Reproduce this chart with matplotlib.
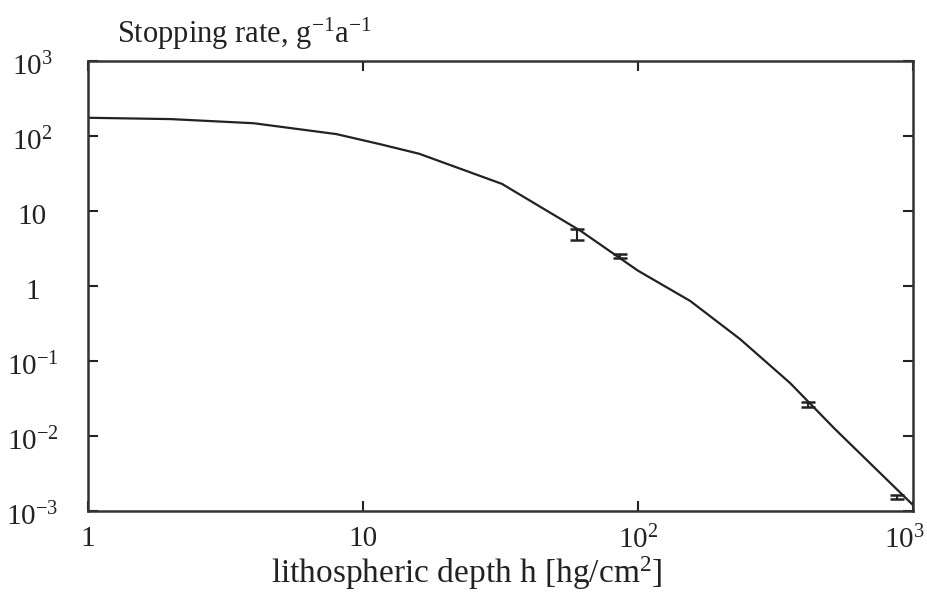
import matplotlib
matplotlib.use("Agg")
import matplotlib.pyplot as plt
from matplotlib.ticker import FixedLocator, NullLocator
from matplotlib.transforms import ScaledTranslation

plt.rcParams['font.family'] = ['Liberation Serif', 'DejaVu Serif']
plt.rcParams['mathtext.fontset'] = 'custom'
plt.rcParams['mathtext.rm'] = 'Liberation Serif'
plt.rcParams['mathtext.it'] = 'Liberation Serif:italic'
plt.rcParams['mathtext.bf'] = 'Liberation Serif:bold'

# Model curve
depth = [1, 2, 4, 8, 11.5, 16, 32, 62, 100, 155, 235, 357, 520, 1000]
rate = [175, 168, 148, 106, 78, 58, 23, 5.4, 1.6, 0.63, 0.196, 0.051, 0.0124, 0.0012]

# Measured points
meas_depth = [60, 86, 415, 875]
meas_rate = [4.9, 2.5, 0.0265, 0.00155]
meas_err = [0.8, 0.15, 0.002, 0.0001]

xticks = [1, 10, 100, 1000]
xticklabels = ['1', '10', '10$^{2}$', '10$^{3}$']
yticks = [1e-3, 1e-2, 1e-1, 1, 10, 100, 1000]
yticklabels = ['10$^{-3}$', '10$^{-2}$', '10$^{-1}$', '1', '10', '10$^{2}$', '10$^{3}$']

fig = plt.figure(figsize=(9.27, 5.97), dpi=100)
ax = fig.add_axes([88/927, 1-511/597, (913-88)/927, (511-61)/597])

ax.plot(depth, rate, color='#222222', lw=1.6)
ax.errorbar(meas_depth, meas_rate, yerr=meas_err, fmt='none', ecolor='#222222',
            elinewidth=1.5, capsize=5, capthick=1.8)

ax.set_xscale('log')
ax.set_yscale('log')
ax.set_xlim(1, 1000)
ax.set_ylim(1e-3, 1e3)

ax.xaxis.set_major_locator(FixedLocator(xticks))
ax.xaxis.set_minor_locator(NullLocator())
ax.yaxis.set_major_locator(FixedLocator(yticks))
ax.yaxis.set_minor_locator(NullLocator())
ax.set_xticklabels(xticklabels)
ax.set_yticklabels(yticklabels, ha='center')

ax.tick_params(axis='both', which='major', direction='in', length=7, width=1.5,
               top=True, right=True, labelsize=21, colors='#222222')
ax.tick_params(axis='x', pad=11)
ax.tick_params(axis='y', pad=40)

# shift the last x tick label a bit left so it stays in the picture
last = ax.get_xticklabels()[-1]
last.set_transform(last.get_transform() + ScaledTranslation(-9/100, 0, fig.dpi_scale_trans))
# y tick labels sit slightly below their ticks in the reference
for lab in ax.get_yticklabels():
    lab.set_transform(lab.get_transform() + ScaledTranslation(0, -3/100, fig.dpi_scale_trans))

for sp in ax.spines.values():
    sp.set_linewidth(1.8)
    sp.set_color('#333333')

fig.text(117/927, 1-34/597, 'Stopping rate, g$^{-1}$a$^{-1}$', fontsize=22,
         ha='left', va='center', color='#222222')
fig.text(467/927, 1-573/597, 'lithospheric depth h [hg/cm$^{2}$]', fontsize=24,
         ha='center', va='center', color='#222222')

fig.savefig('out.png', dpi=100)
